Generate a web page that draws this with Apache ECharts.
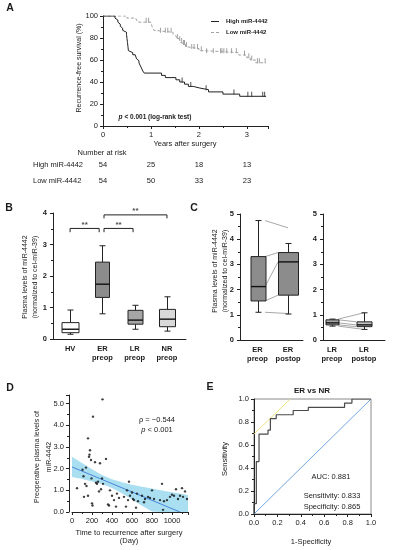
<!DOCTYPE html>
<html><head><meta charset="utf-8">
<script src="https://cdn.jsdelivr.net/npm/echarts@6/dist/echarts.min.js"></script>
<style>html,body{margin:0;padding:0;background:#fff}#c{width:395px;height:550px}</style>
</head><body><div id="c"></div>
<script>
// ---------- Panel A: Kaplan-Meier ----------
const highTimes = [0,0.25,0.28,0.31,0.33,0.36,0.38,0.41,0.44,0.49,0.50,0.51,0.52,0.53,0.56,0.62,0.67,0.70,0.73,0.75,0.77,0.79,0.81,0.83,0.86,1.22,1.30,1.52,1.60,1.70,1.78,1.88,2.02,2.20,2.50,2.85,3.40];
const highSurv  = [100,98.1,96.3,94.4,92.6,90.7,88.9,87.0,85.2,83.3,79.6,75.9,72.2,68.5,66.7,64.8,63.0,61.1,59.3,57.4,55.6,53.7,51.9,50.0,48.1,46.0,44.0,42.0,40.0,38.0,36.0,34.5,33.0,31.0,29.0,27.0,27.0];
const highCensor = [1.65,1.83,2.15,2.73,3.02,3.10,3.33,3.37];
const lowTimes = [0,0.50,0.68,0.72,1.00,1.02,1.04,1.06,1.08,1.46,1.50,1.53,1.58,1.62,1.66,1.72,1.76,2.00,2.12,2.83,3.00,3.07,3.18,3.40];
const lowSurv  = [100,98.1,96.3,94.4,92.6,90.7,88.9,87.0,85.2,83.3,81.5,79.6,77.8,75.9,74.1,72.2,70.4,68.5,66.7,64.5,62.0,60.0,57.5,57.5];
const lowCensor = [0.90,0.95,1.20,1.30,1.35,1.42,1.55,1.60,1.64,1.68,1.70,1.74,1.85,1.90,1.97,2.05,2.16,2.30,2.45,2.48,2.52,2.58,2.68,2.78,2.95,3.04,3.10,3.22,3.26,3.38];
const riskYears = [0,1,2,3];
const riskHigh = [54,25,18,13];
const riskLow  = [54,50,33,23];

// ---------- Panel B: box plots ----------
const groupsB = ['HV','ER\npreop','LR\npreop','NR\npreop'];
const bMin = [0.15,0.80,0.31,0.25];
const bQ1  = [0.20,1.32,0.47,0.39];
const bMed = [0.31,1.74,0.60,0.63];
const bQ3  = [0.52,2.44,0.91,0.94];
const bMax = [0.92,2.96,1.07,1.34];
const bracketFrom = [0,1.05,1.05];
const bracketTo   = [0.9,1.95,3.0];
const bracketLevel = [3.51,3.51,3.94];
const bracketFoot  = [3.39,3.39,3.83];
const starLabels = ['**','**','**'];

// ---------- Panel C ----------
const groupsC1 = ['ER\npreop','ER\npostop'];
const c1Min = [1.10,1.03], c1Q1 = [1.55,1.78], c1Med = [2.12,3.10], c1Q3 = [3.31,3.47], c1Max = [4.74,3.83];
const erLinkPre  = [4.74,3.31,2.12,1.55,1.10];
const erLinkPost = [4.45,3.47,3.10,1.78,1.05];
const groupsC2 = ['LR\npreop','LR\npostop'];
const c2Min = [0.55,0.42], c2Q1 = [0.60,0.53], c2Med = [0.68,0.60], c2Q3 = [0.80,0.72], c2Max = [0.83,1.08];
const lrLinkPre  = [0.83,0.80,0.68,0.60,0.55];
const lrLinkPost = [1.08,0.72,0.60,0.53,0.42];
const linkToCenter = [1,0,0,0,1];

// ---------- Panel D: scatter ----------
const dDays = [50,105,115,120,130,140,145,160,160,170,175,180,190,195,200,205,210,230,240,250,260,270,280,290,300,305,310,340,360,370,380,400,420,440,450,470,520,540,550,560,570,580,600,610,620,640,650,660,700,720,730,760,780,800,820,880,900,910,920,950,980,1000,1020,1040,1060,1080,1100,1110,1130,1150];
const dVals = [1.1,1.95,1.65,0.7,1.3,2.05,1.2,0.75,3.4,2.55,2.65,2.85,2.4,1.55,0.4,0.3,4.4,2.3,1.35,1.3,1.4,0.95,2.25,1.05,1.55,5.2,1.3,2.45,0.35,0.3,1.0,0.75,0.55,0.25,0.85,0.65,0.7,0.25,1.0,0.55,1.4,0.75,0.9,0.6,0.55,0.2,0.85,0.5,0.75,0.45,0.6,0.7,0.65,1.0,0.6,0.55,1.3,0.1,0.5,0.55,0.7,0.8,0.75,1.05,0.6,0.75,1.1,0.7,0.95,0.6];
const regDays = [0,1080];
const regVals = [2.08,0.0];
const bandDays  = [0,100,200,300,400,500,600,700,800,900,1000,1100,1160];
const bandUpper = [2.55,2.26,1.97,1.71,1.51,1.37,1.26,1.17,1.08,0.99,0.91,0.83,0.78];
const bandLower = [1.61,1.52,1.41,1.29,1.11,0.86,0.58,0.29,0.02,0,0,0,0];

// ---------- Panel E: ROC ----------
const rocFpr = [0,0,0.02,0.02,0.043,0.043,0.12,0.12,0.14,0.14,0.19,0.19,0.335,0.335,0.464,0.464,0.774,0.774,0.837,0.837,1.0];
const rocTpr = [0,0.09,0.09,0.456,0.456,0.695,0.695,0.73,0.73,0.83,0.83,0.863,0.863,0.90,0.90,0.927,0.927,0.965,0.965,1.0,1.0];
const diagX = [0,1], diagY = [0,1];
const tangX = [0,0.31], tangY = [0.695,1.0];

// ---------- helpers ----------
const FONT = 'Liberation Sans, Arial, Helvetica, sans-serif';
const TXT = '#1a1a1a';
const FS = 7.5;
const zip = (a,b) => a.map((v,i)=>[v,b[i]]);
function survAt(times, surv, t){ let s = surv[0]; for (let i=0;i<times.length;i++){ if (times[i] <= t) s = surv[i]; } return s; }

function axisBase(extra, labelExtra){
  const ax = {
    type:'value', splitLine:{show:false},
    axisLine:{show:true, onZero:false, lineStyle:{color:'#222', width:1}},
    axisTick:{show:true, length:3, lineStyle:{color:'#222', width:1}},
    minorTick:{show:true, splitNumber:2, length:2, lineStyle:{color:'#222', width:1}},
    axisLabel:Object.assign({fontSize:FS, color:TXT, fontFamily:FONT, margin:5}, labelExtra||{})
  };
  return Object.assign(ax, extra);
}
function catAxis(grid, min, max, names, vals){
  return axisBase({gridIndex:grid, min:min, max:max, axisTick:{show:false}, minorTick:{show:false}},
    {customValues:vals, formatter:(v)=>names[Math.round(v)], fontWeight:'bold', lineHeight:8.5, margin:6});
}

function boxRender(widths, fills){
  return function(params, api){
    const x = api.value(0);
    const w = widths[params.dataIndex];
    const cap = 3;
    const pMin = api.coord([x, api.value(1)]);
    const pQ1 = api.coord([x, api.value(2)]);
    const pMd = api.coord([x, api.value(3)]);
    const pQ3 = api.coord([x, api.value(4)]);
    const pMax = api.coord([x, api.value(5)]);
    const cx = Math.round(pMin[0]) + 0.5;
    const st = {stroke:'#222', lineWidth:1, fill:null};
    return {type:'group', children:[
      {type:'line', shape:{x1:cx,y1:pMax[1],x2:cx,y2:pQ3[1]}, style:st},
      {type:'line', shape:{x1:cx,y1:pQ1[1],x2:cx,y2:pMin[1]}, style:st},
      {type:'line', shape:{x1:cx-cap,y1:pMax[1],x2:cx+cap,y2:pMax[1]}, style:st},
      {type:'line', shape:{x1:cx-cap,y1:pMin[1],x2:cx+cap,y2:pMin[1]}, style:st},
      {type:'rect', shape:{x:cx-w/2,y:pQ3[1],width:w,height:pQ1[1]-pQ3[1]}, style:{fill:fills[params.dataIndex], stroke:'#222', lineWidth:1}},
      {type:'line', shape:{x1:cx-w/2,y1:pMd[1],x2:cx+w/2,y2:pMd[1]}, style:{stroke:'#111', lineWidth:1.4}}
    ]};
  };
}
function linkRender(widths){
  return function(params, api){
    const p1 = api.coord([0, api.value(0)]);
    const p2 = api.coord([1, api.value(1)]);
    const toC = api.value(2);
    const x1 = p1[0] + widths[0]/2;
    const x2 = toC ? p2[0] : p2[0] - widths[1]/2;
    return {type:'line', shape:{x1:x1,y1:p1[1],x2:x2,y2:p2[1]}, style:{stroke:'#a8a8a8', lineWidth:1}};
  };
}
const boxData = (mn,q1,md,q3,mx) => mn.map((v,i)=>[i,v,q1[i],md[i],q3[i],mx[i]]);

const wB = [17,14,15,16], fillB = ['#ffffff','#8c8c8c','#a6a6a6','#d9d9d9'];
const wC1 = [15,20], fillC1 = ['#8c8c8c','#8c8c8c'];
const wC2 = [13,15], fillC2 = ['#a8a8a8','#c4c4c4'];

const chart = echarts.init(document.getElementById('c'), null, {renderer:'canvas'});

const bracketSeries = bracketFrom.map((f,i)=>({
  type:'line', xAxisIndex:1, yAxisIndex:1, symbol:'none', silent:true,
  lineStyle:{color:'#222', width:1},
  data:[[f,bracketFoot[i]],[f,bracketLevel[i]],[bracketTo[i],bracketLevel[i]],[bracketTo[i],bracketFoot[i]]]
}));

const option = {
  animation:false,
  backgroundColor:'#ffffff',
  textStyle:{fontFamily:FONT},
  grid:[
    {left:103, top:16, width:165, height:110},
    {left:53, top:213, width:133, height:126},
    {left:240, top:214, width:63, height:126},
    {left:323, top:214, width:62, height:126},
    {left:72, top:395, width:116, height:117},
    {left:254, top:399, width:117, height:115, show:true, borderColor:'#8a8a8a', borderWidth:1, backgroundColor:'transparent'}
  ],
  xAxis:[
    axisBase({gridIndex:0, min:0, max:3.44, interval:1}, {showMaxLabel:false}),
    catAxis(1, -0.53, 3.59, groupsB, [0,1,2,3]),
    catAxis(2, -0.574, 1.49, groupsC1, [0,1]),
    catAxis(3, -0.28, 1.66, groupsC2, [0,1]),
    axisBase({gridIndex:4, min:0, max:1160, interval:200}, {showMaxLabel:false, formatter:(v)=>String(Math.round(v))}),
    axisBase({gridIndex:5, min:0, max:1, interval:0.2}, {formatter:(v)=>v.toFixed(1)})
  ],
  yAxis:[
    axisBase({gridIndex:0, min:0, max:100, interval:20}),
    axisBase({gridIndex:1, min:0, max:4, interval:1}, {fontWeight:'bold', margin:6}),
    axisBase({gridIndex:2, min:0, max:5, interval:1}, {fontWeight:'bold', margin:6}),
    axisBase({gridIndex:3, min:0, max:5, interval:1}, {fontWeight:'bold', margin:6}),
    axisBase({gridIndex:4, min:0, max:5.4, interval:1, offset:3}, {formatter:(v)=>v.toFixed(1), showMaxLabel:false}),
    axisBase({gridIndex:5, min:0, max:1, interval:0.2}, {formatter:(v)=>v.toFixed(1)})
  ],
  series:[
    // A
    {type:'line', xAxisIndex:0, yAxisIndex:0, step:'end', symbol:'none', data:zip(lowTimes,lowSurv),
     lineStyle:{color:'#a0a0a0', width:1, type:[3,2]}},
    {type:'line', xAxisIndex:0, yAxisIndex:0, step:'end', symbol:'none', data:zip(highTimes,highSurv),
     lineStyle:{color:'#222', width:1}},
    {type:'scatter', xAxisIndex:0, yAxisIndex:0, symbol:'rect', symbolSize:[1,5], symbolOffset:[0,-2],
     itemStyle:{color:'#8a8a8a'}, data:lowCensor.map(t=>[t, survAt(lowTimes,lowSurv,t)])},
    {type:'scatter', xAxisIndex:0, yAxisIndex:0, symbol:'rect', symbolSize:[1,5], symbolOffset:[0,-2],
     itemStyle:{color:'#222'}, data:highCensor.map(t=>[t, survAt(highTimes,highSurv,t)])},
    // B
    {type:'custom', xAxisIndex:1, yAxisIndex:1, renderItem:boxRender(wB, fillB), data:boxData(bMin,bQ1,bMed,bQ3,bMax), encode:{x:0,y:[1,2,3,4,5]}},
    ...bracketSeries,
    {type:'scatter', xAxisIndex:1, yAxisIndex:1, symbolSize:0, silent:true,
     data:bracketFrom.map((f,i)=>({value:[(f+bracketTo[i])/2, bracketLevel[i]], name:starLabels[i]})),
     label:{show:true, position:'top', distance:0, formatter:(p)=>p.name, fontSize:8, fontWeight:'bold', color:TXT, fontFamily:FONT}},
    // C
    {type:'custom', xAxisIndex:2, yAxisIndex:2, renderItem:linkRender(wC1), data:erLinkPre.map((v,i)=>[v,erLinkPost[i],linkToCenter[i]]), z:1},
    {type:'custom', xAxisIndex:2, yAxisIndex:2, renderItem:boxRender(wC1, fillC1), data:boxData(c1Min,c1Q1,c1Med,c1Q3,c1Max), encode:{x:0,y:[1,2,3,4,5]}, z:2},
    {type:'custom', xAxisIndex:3, yAxisIndex:3, renderItem:linkRender(wC2), data:lrLinkPre.map((v,i)=>[v,lrLinkPost[i],linkToCenter[i]]), z:1},
    {type:'custom', xAxisIndex:3, yAxisIndex:3, renderItem:boxRender(wC2, fillC2), data:boxData(c2Min,c2Q1,c2Med,c2Q3,c2Max), encode:{x:0,y:[1,2,3,4,5]}, z:2},
    // D
    {type:'custom', xAxisIndex:4, yAxisIndex:4, silent:true, z:1, data:[[bandDays[0], bandUpper[0]]],
     renderItem:function(params, api){
       const pts = [];
       for (let i=0;i<bandDays.length;i++) pts.push(api.coord([bandDays[i], bandUpper[i]]));
       for (let i=bandDays.length-1;i>=0;i--) pts.push(api.coord([bandDays[i], bandLower[i]]));
       return {type:'polygon', shape:{points:pts}, style:{fill:'#aadff1', stroke:null}};
     }},
    {type:'line', xAxisIndex:4, yAxisIndex:4, symbol:'none', data:zip(regDays,regVals), lineStyle:{color:'#4a86d8', width:1}, z:3},
    {type:'scatter', xAxisIndex:4, yAxisIndex:4, symbol:'circle', symbolSize:2.4, itemStyle:{color:'#111'}, data:zip(dDays,dVals), z:4},
    // E
    {type:'line', xAxisIndex:5, yAxisIndex:5, symbol:'none', data:zip(diagX,diagY), lineStyle:{color:'#72a7dc', width:1}},
    {type:'line', xAxisIndex:5, yAxisIndex:5, symbol:'none', data:zip(tangX,tangY), lineStyle:{color:'#efe07e', width:1}},
    {type:'line', xAxisIndex:5, yAxisIndex:5, symbol:'none', data:zip(rocFpr,rocTpr), lineStyle:{color:'#4a4a4a', width:1.2}, z:5}
  ]
};
chart.setOption(option);

function T(text, x, y, o){
  o = o || {};
  return {type:'text', x:x, y:y, rotation:o.rot||0, silent:true, z:100,
    style:{text:text, fill:o.color||TXT, fontSize:o.size||FS, fontFamily:FONT,
      fontWeight:o.bold?'bold':'normal', fontStyle:o.italic?'italic':'normal',
      align:o.align||'center', verticalAlign:'middle', textAlign:o.align||'center', textVerticalAlign:'middle',
      rich:o.rich}};
}
const R = Math.PI/2;
const g = [
  // panel letters
  T('A', 10, 8, {size:10.5, bold:true}),
  T('B', 9, 208, {size:10.5, bold:true}),
  T('C', 194, 208, {size:10.5, bold:true}),
  T('D', 10, 388, {size:10.5, bold:true}),
  T('E', 210, 387, {size:10.5, bold:true}),
  // A
  T('Recurrence-free survival (%)', 79, 68, {rot:R, size:7}),
  T('Years after surgery', 185, 144),
  {type:'line', shape:{x1:211,y1:21.5,x2:219,y2:21.5}, style:{stroke:'#222', lineWidth:1}},
  {type:'line', shape:{x1:211,y1:32.5,x2:219,y2:32.5}, style:{stroke:'#a0a0a0', lineWidth:1, lineDash:[3,2]}},
  T('High miR-4442', 226, 21.5, {size:6, bold:true, align:'left'}),
  T('Low miR-4442', 226, 32.5, {size:6, bold:true, align:'left'}),
  T('{i|p} < 0.001 (log-rank test)', 155, 117, {size:6.5, bold:true,
     rich:{i:{fontStyle:'italic', fontWeight:'bold', fontSize:6.5, fontFamily:FONT, fill:TXT}}}),
  T('Number at risk', 102, 153),
  T('High miR-4442', 33, 165, {align:'left'}),
  T('Low miR-4442', 33, 181, {align:'left'}),
  // B
  T('Plasma levels of miR-4442', 25, 277, {rot:R, size:7}),
  T('(normalized to cel-miR-39)', 35, 277, {rot:R, size:7}),
  // C
  T('Plasma levels of miR-4442', 215, 271, {rot:R, size:7}),
  T('(normalized to cel-miR-39)', 225, 271, {rot:R, size:7}),
  // D
  T('Preoperative plasma levels of', 37, 457, {rot:R, size:7}),
  T('miR-4442', 49, 457, {rot:R, size:7}),
  T('Time to recurrence after surgery', 129, 533),
  T('(Day)', 129, 541),
  T('ρ = −0.544', 157, 420),
  T('{i|p} < 0.001', 157, 429.5, {rich:{i:{fontStyle:'italic', fontSize:FS, fontFamily:FONT, fill:TXT}}}),
  // E
  T('ER vs NR', 312, 391, {size:8, bold:true}),
  T('Sensitivity', 225, 459, {rot:R}),
  T('1-Specificity', 311, 542),
  T('AUC: 0.881', 331, 477),
  T('Sensitivity: 0.833', 332, 496),
  T('Specificity: 0.865', 332, 507)
];
riskYears.forEach((t,i)=>{
  const px = chart.convertToPixel({xAxisIndex:0}, t);
  g.push(T(String(riskHigh[i]), px, 165));
  g.push(T(String(riskLow[i]), px, 181));
});
chart.setOption({graphic:g});
</script></body></html>
